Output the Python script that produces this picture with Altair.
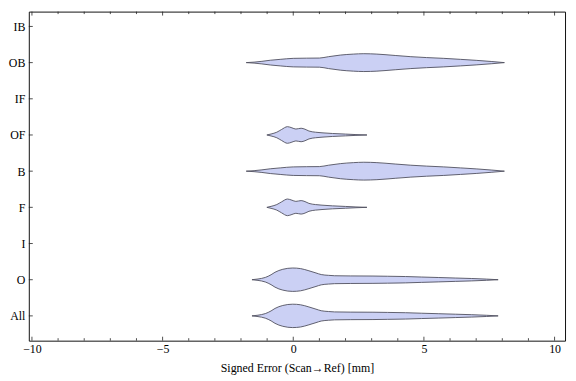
import altair as alt
import pandas as pd

# Categories from bottom to top
categories = ["All", "O", "I", "F", "B", "OF", "IF", "OB", "IB"]

# Violin profiles: signed error values [mm] and relative density (half-width)
shape_a_x = [-1.58, -1.35, -1.07, -0.85, -0.7, -0.4, -0.02, 0.28, 0.6, 0.87, 1.07, 1.35, 1.58,
             2.2, 3.05, 3.6, 4.3, 4.9, 5.57, 6.2, 6.83, 7.4, 7.84]
shape_a_d = [0.0, 0.7, 2.3, 5.0, 7.5, 10.5, 11.8, 11.2, 9.0, 6.8, 5.2, 4.4, 4.0,
             3.8, 3.7, 3.5, 3.2, 2.7, 2.2, 1.7, 1.2, 0.6, 0.0]

shape_b_x = [-1.80, -1.5, -1.2, -0.88, -0.5, 0.0, 0.5, 1.0, 1.35, 1.8, 2.3, 2.7, 3.2,
             3.9, 4.5, 5.1, 5.76, 6.4, 7.0, 7.6, 8.08]
shape_b_d = [0.0, 0.5, 1.3, 2.4, 3.3, 4.3, 4.5, 4.6, 6.0, 7.6, 8.6, 9.0, 8.6,
             7.2, 6.0, 5.1, 4.3, 3.3, 2.3, 1.1, 0.0]

shape_c_x = [-1.01, -0.85, -0.63, -0.45, -0.22, -0.05, 0.1, 0.3, 0.45, 0.6, 0.85,
             1.1, 1.5, 2.0, 2.4, 2.82]
shape_c_d = [0.0, 1.0, 2.8, 5.5, 8.4, 7.2, 6.0, 6.8, 5.8, 4.0, 2.8,
             2.2, 1.5, 0.9, 0.4, 0.0]

shapes = {"A": (shape_a_x, shape_a_d), "B": (shape_b_x, shape_b_d), "C": (shape_c_x, shape_c_d)}
category_shape = {"All": "A", "O": "A", "F": "C", "B": "B", "OF": "C", "OB": "B"}

x_major = [-10, -5, 0, 5, 10]
x_minor = [-9, -8, -7, -6, -4, -3, -2, -1, 1, 2, 3, 4, 6, 7, 8, 9]

density_scale = 1 / 36.5  # density -> category units

rows = []
for i, cat in enumerate(categories):
    if cat not in category_shape:
        continue
    xs, ds = shapes[category_shape[cat]]
    k = i + 1
    for xv, dv in zip(xs, ds):
        rows.append({"cat": cat, "value": xv, "lo": k - dv * density_scale, "hi": k + dv * density_scale})
df = pd.DataFrame(rows)

W, H = 541, 332
xscale = alt.Scale(domain=[-10.12, 10.4], nice=False, zero=False)
yscale = alt.Scale(domain=[0.315, 9.41], nice=False, zero=False)

label_expr = "[" + ",".join("'" + c + "'" for c in categories) + "][datum.value - 1]"

x_axis = alt.Axis(values=x_major, ticks=False, domain=False, grid=False,
                  title="Signed Error (Scan\u2192Ref) [mm]",
                  labelFont="Liberation Serif", labelFontSize=12, labelColor="#000",
                  labelPadding=3, titleFont="Liberation Serif", titleFontSize=12,
                  titleFontWeight="normal", titleColor="#000", titlePadding=8)
y_axis = alt.Axis(values=list(range(1, len(categories) + 1)), labelExpr=label_expr,
                  ticks=False, domain=False, grid=False, title=None,
                  labelFont="Liberation Serif", labelFontSize=12, labelColor="#000",
                  labelPadding=4)

violins = alt.Chart(df).mark_area(
    fill="#cbd0f4", stroke="#50505e", strokeWidth=0.9, interpolate="monotone", opacity=1
).encode(
    x=alt.X("value:Q", scale=xscale, axis=x_axis),
    y=alt.Y("lo:Q", scale=yscale, axis=y_axis),
    y2="hi:Q",
    detail="cat:N",
)

major_df = pd.DataFrame({"value": x_major})
minor_df = pd.DataFrame({"value": x_minor})
ycat_df = pd.DataFrame({"lo": list(range(1, len(categories) + 1))})

tick_color = "#222"
tx = alt.X("value:Q", scale=xscale, axis=x_axis)

major_bottom = alt.Chart(major_df).mark_rule(color=tick_color, strokeWidth=0.8).encode(
    x=tx, y=alt.value(H), y2=alt.value(H - 4))
minor_bottom = alt.Chart(minor_df).mark_rule(color=tick_color, strokeWidth=0.8).encode(
    x=tx, y=alt.value(H), y2=alt.value(H - 2.5))
major_top = alt.Chart(major_df).mark_rule(color=tick_color, strokeWidth=0.8).encode(
    x=tx, y=alt.value(0), y2=alt.value(4))
minor_top = alt.Chart(minor_df).mark_rule(color=tick_color, strokeWidth=0.8).encode(
    x=tx, y=alt.value(0), y2=alt.value(2.5))
y_ticks = alt.Chart(ycat_df).mark_rule(color=tick_color, strokeWidth=0.8).encode(
    y=alt.Y("lo:Q", scale=yscale, axis=y_axis), x=alt.value(0), x2=alt.value(4))

chart = alt.layer(violins, major_bottom, minor_bottom, major_top, minor_top, y_ticks).properties(
    width=W, height=H, background="white",
    padding={"left": 0, "top": 1, "right": 3, "bottom": 0}
).configure_view(stroke="#111", strokeWidth=1)

chart.save("out.html", embed_options={"renderer": "svg", "actions": False})
